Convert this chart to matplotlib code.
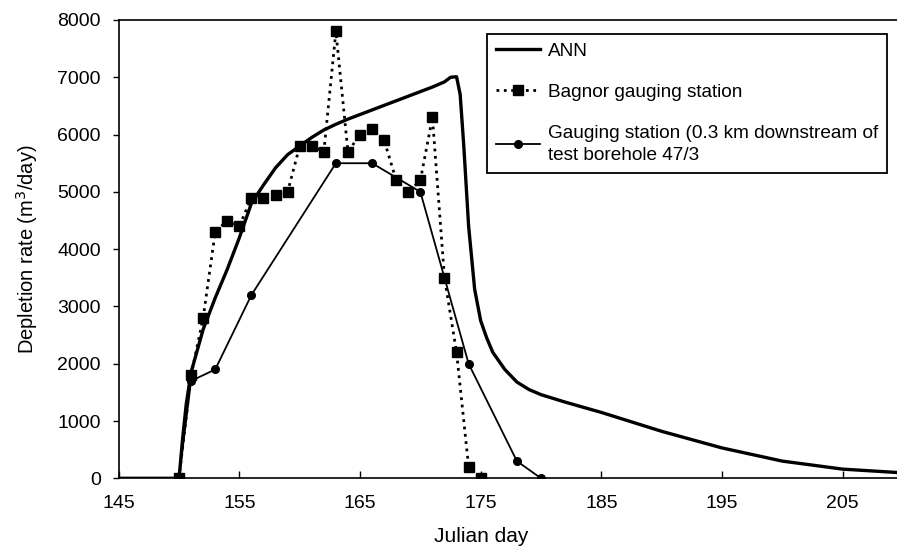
import matplotlib
matplotlib.use("Agg")
import matplotlib.pyplot as plt

plt.rcParams['font.family'] = ['Liberation Sans', 'DejaVu Sans']

# ANN simulated depletion rate
ann_day = [145, 150, 150.3, 150.6, 151, 152, 153, 154, 155, 156, 157, 158, 159, 160,
           161, 162, 163, 164, 165, 166, 167, 168, 169, 170, 171, 172, 172.5, 173,
           173.3, 173.6, 174, 174.5, 175, 175.5, 176, 177, 178, 179, 180, 182, 185,
           190, 195, 200, 205, 210]
ann_val = [0, 0, 700, 1300, 1850, 2600, 3150, 3650, 4200, 4800, 5120, 5420, 5650, 5800,
           5950, 6080, 6180, 6270, 6350, 6430, 6510, 6590, 6670, 6750, 6830, 6920, 7000, 7010,
           6700, 5800, 4400, 3300, 2750, 2450, 2200, 1900, 1680, 1550, 1460, 1330, 1150,
           820, 530, 300, 160, 95]

# Bagnor gauging station
bag_day = [150, 151, 152, 153, 154, 155, 156, 157, 158, 159, 160, 161, 162, 163, 164,
           165, 166, 167, 168, 169, 170, 171, 172, 173, 174, 175]
bag_val = [0, 1800, 2800, 4300, 4500, 4400, 4900, 4900, 4950, 5000, 5800, 5800, 5700,
           7800, 5700, 6000, 6100, 5900, 5200, 5000, 5200, 6300, 3500, 2200, 200, 0]

# Gauging station (0.3 km downstream of test borehole 47/3)
gs_day = [150, 151, 153, 156, 163, 166, 170, 174, 178, 180]
gs_val = [0, 1700, 1900, 3200, 5500, 5500, 5000, 2000, 300, 0]

x_ticks = [145, 155, 165, 175, 185, 195, 205]
y_ticks = [0, 1000, 2000, 3000, 4000, 5000, 6000, 7000, 8000]

W, H = 897, 552
fig = plt.figure(figsize=(W / 100, H / 100), dpi=100)
left_px, right_px, top_px, bot_px = 118.7, 903.0, 20.0, 478.3
ax = fig.add_axes([left_px / W, 1 - bot_px / H, (right_px - left_px) / W, (bot_px - top_px) / H])

ax.plot(ann_day, ann_val, color='black', lw=2.4, label='ANN', zorder=2)
ax.plot(bag_day, bag_val, color='black', lw=2.0, ls=':', marker='s', ms=7.5,
        label='Bagnor gauging station', zorder=3)
ax.plot(gs_day, gs_val, color='black', lw=1.3, ls='-', marker='o', ms=5.5,
        label='Gauging station (0.3 km downstream of\ntest borehole 47/3', zorder=4)

ax.set_xlim(145, 210)
ax.set_ylim(0, 8000)
ax.set_xticks(x_ticks)
ax.set_yticks(y_ticks)
ax.tick_params(axis='x', direction='in', length=5, width=1.0, pad=12, labelsize=14)
ax.tick_params(axis='y', direction='out', length=4, width=1.0, pad=9, labelsize=14)
for s in ['left', 'bottom', 'top', 'right']:
    ax.spines[s].set_linewidth(1.2)

ax.set_xlabel('Julian day', fontsize=15)
ax.xaxis.set_label_coords((481 - left_px) / (right_px - left_px), -(527 - bot_px) / (bot_px - top_px))
ax.set_ylabel('Depletion rate (m$^3$/day)', fontsize=14.5)
ax.yaxis.set_label_coords(-(left_px - 40) / (right_px - left_px), 0.5)

leg = ax.legend(loc='upper left', bbox_to_anchor=(487 / W, 1 - 34 / H),
                bbox_transform=fig.transFigure, borderaxespad=0, fancybox=False,
                edgecolor='black', framealpha=1, fontsize=13.7, handlelength=2.35,
                handletextpad=0.4, labelspacing=1.25, borderpad=0.45)
leg.get_frame().set_linewidth(1.3)
leg.get_texts()[2].set_linespacing(1.4)

fig.savefig('out.png', dpi=100)
